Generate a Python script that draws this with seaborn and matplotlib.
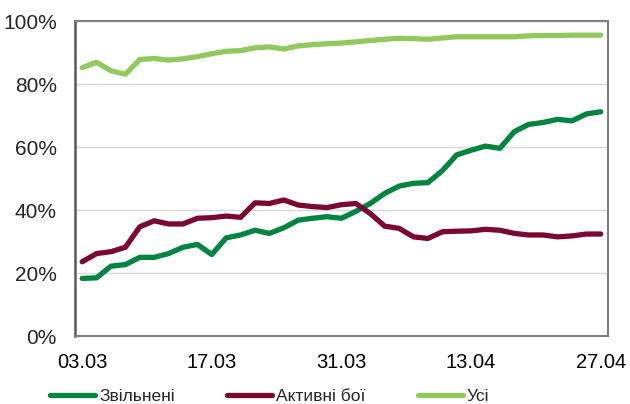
import matplotlib.pyplot as plt
import numpy as np
import pandas as pd
import seaborn as sns
from matplotlib.lines import Line2D
from matplotlib.ticker import PercentFormatter

# share of ... by category, %, 37 observations from 03.03 to 27.04
zvilneni = [18.3, 18.5, 22.2, 22.7, 25.0, 25.0, 26.2, 28.2, 29.1, 25.9,
            31.2, 32.1, 33.6, 32.6, 34.4, 36.8, 37.4, 37.9, 37.4, 39.6,
            42.1, 45.3, 47.6, 48.5, 48.7, 52.5, 57.5, 59.0, 60.3, 59.6,
            64.9, 67.2, 67.8, 68.8, 68.3, 70.5, 71.2]
aktyvni_boi = [23.6, 26.2, 26.8, 28.2, 34.7, 36.6, 35.6, 35.6, 37.4, 37.6,
               38.1, 37.7, 42.3, 42.1, 43.2, 41.6, 41.1, 40.8, 41.7, 42.1,
               38.9, 34.9, 34.2, 31.5, 31.0, 33.1, 33.3, 33.4, 33.9, 33.6,
               32.6, 32.1, 32.1, 31.5, 31.8, 32.4, 32.4]
usi = [85.2, 86.9, 84.2, 83.1, 87.8, 88.1, 87.6, 88.0, 88.7, 89.6,
       90.4, 90.6, 91.5, 91.8, 91.1, 92.1, 92.5, 92.8, 93.0, 93.4,
       93.8, 94.2, 94.5, 94.4, 94.2, 94.6, 95.0, 95.0, 95.0, 95.0,
       95.0, 95.3, 95.4, 95.4, 95.5, 95.5, 95.5]
tick_labels = ['03.03', '17.03', '31.03', '13.04', '27.04']
label_step = 9
series_names = ['Звільнені', 'Активні бої', 'Усі']
colors = ['#00843f', '#7a0833', '#92c95f']

sns.set_style('white')
plt.rcParams['font.family'] = ['Liberation Sans', 'DejaVu Sans']

n = len(usi)
df = pd.DataFrame({'idx': np.arange(n), series_names[0]: zvilneni,
                   series_names[1]: aktyvni_boi, series_names[2]: usi})
long_df = df.melt(id_vars='idx', var_name='series', value_name='value')

fig = plt.figure(figsize=(6.3, 4.04), dpi=100)
ax = fig.add_axes([0.119, 0.168, 0.846, 0.78])
sns.lineplot(data=long_df, x='idx', y='value', hue='series', hue_order=series_names,
             palette=colors, linewidth=3.8, ax=ax, legend=False)
for line in ax.lines:
    line.set_solid_capstyle('round')

ax.set_xlim(-0.5, n - 0.5)
ax.set_ylim(0, 100)
ax.set_xlabel('')
ax.set_ylabel('')

# category axis: labels every 9 points, small ticks between categories
ax.set_xticks(np.arange(0, n, label_step))
ax.set_xticklabels(tick_labels)
ax.set_xticks(np.arange(0.5, n - 1, 1), minor=True)
ax.tick_params(axis='x', which='major', length=0, pad=12, labelsize=14.5, colors='black')
ax.tick_params(axis='x', which='minor', direction='in', length=4, width=1, color='#808080')

ax.set_yticks(np.arange(0, 101, 20))
ax.yaxis.set_major_formatter(PercentFormatter(decimals=0))
ax.tick_params(axis='y', direction='in', length=5, width=1, color='#595959',
               pad=13, labelsize=15)
ax.yaxis.grid(True, color='#d9d9d9', linewidth=1)
ax.set_axisbelow(True)

for side in ['top', 'right', 'bottom']:
    ax.spines[side].set_color('#808080')
    ax.spines[side].set_linewidth(1.5)
ax.spines['left'].set_color('#595959')
ax.spines['left'].set_linewidth(1.8)

handles = [Line2D([], [], color=c, linewidth=3.8, solid_capstyle='round') for c in colors]
fig.legend(handles, series_names, loc='center', bbox_to_anchor=(0.428, 0.018), ncol=3,
           frameon=False, fontsize=12.5, handlelength=2.6, handletextpad=0.23,
           columnspacing=3.0)

plt.savefig('out.png', dpi=100)
